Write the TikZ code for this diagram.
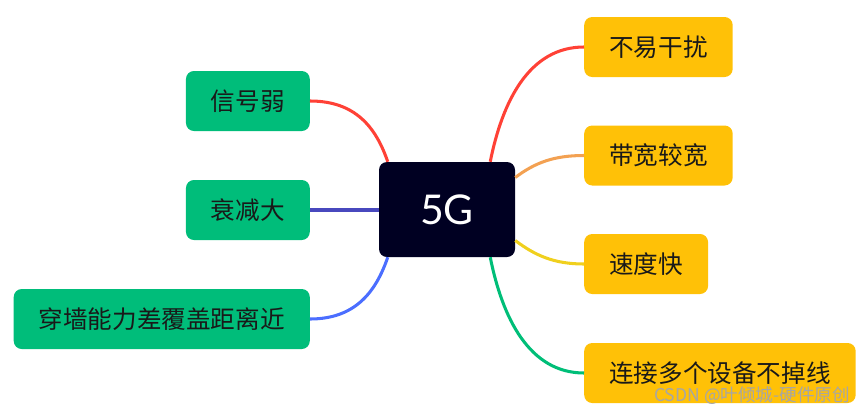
\documentclass[tikz,border=0pt]{standalone}
\usepackage{fontspec}
\setmainfont{Noto Sans CJK SC}
\newfontfamily\hubfont{Lato}
\usetikzlibrary{positioning, calc}

\definecolor{hubnavy}{RGB}{0,0,34}
\definecolor{leafgreen}{RGB}{0,189,122}
\definecolor{leafamber}{RGB}{255,193,7}
\definecolor{lnred}{RGB}{255,65,54}
\definecolor{lnorange}{RGB}{243,161,82}
\definecolor{lnyellow}{RGB}{240,208,30}
\definecolor{lngreen}{RGB}{0,190,120}
\definecolor{lnviolet}{RGB}{72,72,190}
\definecolor{lnblue}{RGB}{75,110,255}

\begin{document}
\begin{tikzpicture}[
        x=0.03cm, y=-0.03cm,
        hub/.style={fill=hubnavy, rounded corners=0.24cm, text=white,
                    minimum width=4.08cm, minimum height=2.85cm,
                    font=\hubfont\fontsize{35}{40}\selectfont},
        leaf/.style={rounded corners=0.24cm, inner xsep=0.75cm, inner ysep=0pt,
                     minimum height=1.8cm, text=black!90,
                     font=\fontsize{21}{25}\selectfont},
        conL/.style={leaf, fill=leafgreen, anchor=east},
        proR/.style={leaf, fill=leafamber, anchor=west},
        lnk/.style={line width=2.6pt},
    ]
        \useasboundingbox (0,0) rectangle (865,414);

        % centre
        \node[hub] (G) at (447,209.5) {5G};

        % left: drawbacks
        \node[conL] (L1) at (310,101) {信号弱};
        \node[conL] (L2) at (310,210) {衰减大};
        \node[conL] (L3) at (310,319) {穿墙能力差覆盖距离近};

        % right: advantages
        \node[proR] (R1) at (584,47)    {不易干扰};
        \node[proR] (R2) at (584,155.5) {带宽较宽};
        \node[proR] (R3) at (584,264)   {速度快};
        \node[proR] (R4) at (584,373)   {连接多个设备不掉线};

        % branches to the left
        \draw[lnk, lnred] (L1.east) .. controls +(45,0) and +(-12,-35)
            .. ($(G.north west)+(9,0)$);
        \draw[lnk, lnviolet] (L2.east) -- (L2.east -| G.west);
        \draw[lnk, lnblue] (L3.east) .. controls +(45,0) and +(-12,35)
            .. ($(G.south west)+(9,0)$);

        % branches to the right
        \draw[lnk, lnred] ($(G.north east)+(-25,0)$) .. controls +(12,-60) and +(-55,0)
            .. (R1.west);
        \draw[lnk, lnorange] ($(G.east)+(0,-32)$) .. controls +(20,-15) and +(-30,0)
            .. (R2.west);
        \draw[lnk, lnyellow] ($(G.east)+(0,31)$) .. controls +(20,15) and +(-30,0)
            .. (R3.west);
        \draw[lnk, lngreen] ($(G.south east)+(-25,0)$) .. controls +(12,60) and +(-55,0)
            .. (R4.west);

        % watermark
        \node[anchor=south east, inner sep=0pt, text=black!35,
              font=\fontsize{15}{18}\selectfont] (wm) at (850,405) {CSDN @叶倾城-硬件原创};
    \end{tikzpicture}
\end{document}
